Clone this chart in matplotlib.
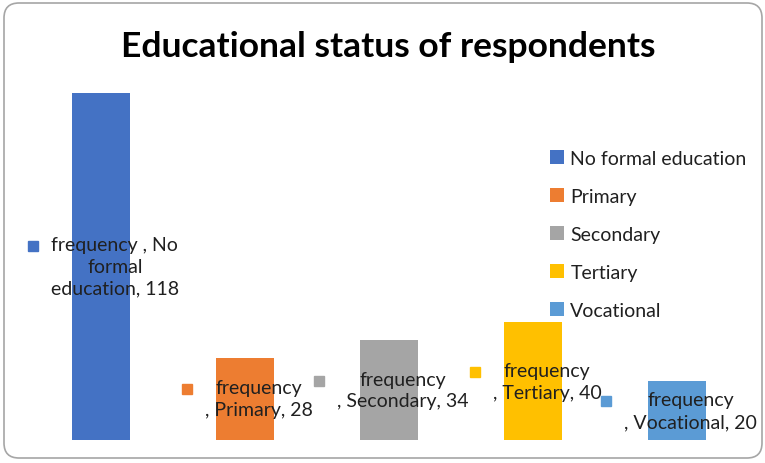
import matplotlib
matplotlib.use("Agg")
from matplotlib import pyplot as plt
from matplotlib.patches import FancyBboxPatch, Rectangle

plt.rcParams['font.family'] = ['Lato', 'DejaVu Sans']

categories = ['No formal education', 'Primary', 'Secondary', 'Tertiary', 'Vocational']
frequency = [118, 28, 34, 40, 20]
colors = ['#4472C4', '#ED7D31', '#A5A5A5', '#FFC000', '#5B9BD5']
series_name = 'frequency '
# how Excel wrapped each data label
label_text = ['frequency , No\nformal\neducation, 118',
              'frequency\n, Primary, 28',
              'frequency\n, Secondary, 34',
              'frequency\n, Tertiary, 40',
              'frequency\n, Vocational, 20']

W, H = 765, 464
fig = plt.figure(figsize=(W / 100, H / 100), dpi=100)

# rounded chart border
border = FancyBboxPatch((0.04, 0.05), 7.58, 4.55,
                        boxstyle='round,pad=0,rounding_size=0.15',
                        transform=fig.dpi_scale_trans, fill=False,
                        ec='#a6a6a6', lw=1.2)
fig.add_artist(border)

ax = fig.add_axes([29 / W, 23 / H, 720 / W, 412 / H])
x = list(range(len(categories)))
bars = ax.bar(x, frequency, width=0.4, color=colors, label=categories)
ax.set_xlim(-0.5, len(categories) - 0.5)
ax.set_ylim(0, 140)
ax.axis('off')

fig.text(388 / W, 1 - 47 / H, 'Educational status of respondents',
         ha='center', va='center', fontsize=25.5, fontweight='bold')

# data labels, centred on the bar, with a legend key in front
anns = []
for i, v in enumerate(frequency):
    a = ax.annotate(label_text[i], xy=(i, v / 2), xytext=(10, 0),
                    textcoords='offset points', ha='center', va='center',
                    multialignment='center', fontsize=14, linespacing=1.35,
                    color='#202020')
    anns.append(a)

fig.canvas.draw()
r = fig.canvas.get_renderer()
inv = fig.transFigure.inverted()
for i, a in enumerate(anns):
    bb = a.get_window_extent(r)
    sx, sy = bb.x0 - 23, bb.y1 - 15
    (fx, fy) = inv.transform((sx, sy))
    fw, fh = inv.transform((sx + 10, sy + 10)) - [fx, fy]
    fig.add_artist(Rectangle((fx, fy), fw, fh, color=colors[i],
                             transform=fig.transFigure))

leg = fig.legend(handles=list(bars), labels=categories, loc='upper left',
                 bbox_to_anchor=(550 / W, 1 - 151 / H), frameon=False,
                 fontsize=14, handlelength=0.7, handleheight=0.7,
                 handletextpad=0.35, labelspacing=1.08, borderpad=0,
                 borderaxespad=0)
for t in leg.get_texts():
    t.set_color('#202020')

fig.savefig('out.png', dpi=100)
